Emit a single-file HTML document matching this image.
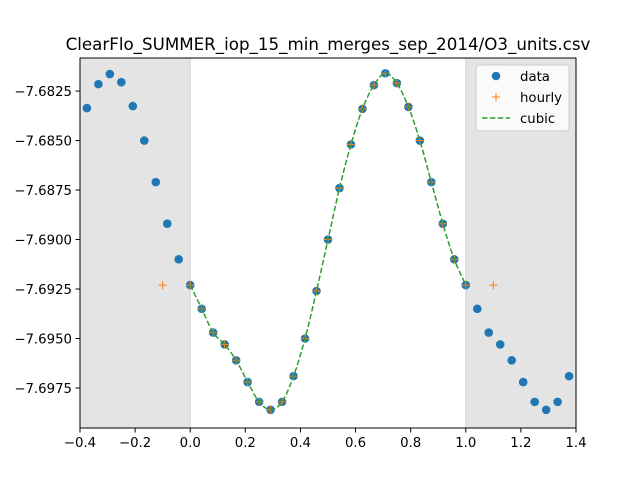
<!DOCTYPE html>
<html><head><meta charset="utf-8"><style>
html,body{margin:0;padding:0;background:#fff;}
svg text{font-family:"DejaVu Sans","Liberation Sans",sans-serif;}
</style></head><body>
<svg id="chart" width="640" height="480" xmlns="http://www.w3.org/2000/svg">
<rect x="0" y="0" width="640" height="480" fill="#fff"/>
<g id="plot"></g>
</svg>
<script>
const dataX = [-0.375,-0.3333,-0.2917,-0.25,-0.2083,-0.1667,-0.125,-0.0833,-0.0417,0,0.0417,0.0833,0.125,0.1667,0.2083,0.25,0.2917,0.3333,0.375,0.4167,0.4583,0.5,0.5417,0.5833,0.625,0.6667,0.7083,0.75,0.7917,0.8333,0.875,0.9167,0.9583,1.0,1.0417,1.0833,1.125,1.1667,1.2083,1.25,1.2917,1.3333,1.375];
const dataY = [-7.68336,-7.68215,-7.68164,-7.68205,-7.68326,-7.6850,-7.6871,-7.6892,-7.6910,-7.6923,-7.6935,-7.6947,-7.6953,-7.6961,-7.6972,-7.6982,-7.6986,-7.6982,-7.6969,-7.6950,-7.6926,-7.6900,-7.6874,-7.6852,-7.6834,-7.6822,-7.6816,-7.6821,-7.6833,-7.6850,-7.6871,-7.6892,-7.6910,-7.6923,-7.6935,-7.6947,-7.6953,-7.6961,-7.6972,-7.6982,-7.6986,-7.6982,-7.6969];
const hourlyX = [-0.1,0,0.0417,0.0833,0.125,0.1667,0.2083,0.25,0.2917,0.3333,0.375,0.4167,0.4583,0.5,0.5417,0.5833,0.625,0.6667,0.7083,0.75,0.7917,0.8333,0.875,0.9167,0.9583,1.0,1.1];
const hourlyY = [-7.6923,-7.6923,-7.6935,-7.6947,-7.6953,-7.6961,-7.6972,-7.6982,-7.6986,-7.6982,-7.6969,-7.6950,-7.6926,-7.6900,-7.6874,-7.6852,-7.6834,-7.6822,-7.6816,-7.6821,-7.6833,-7.6850,-7.6871,-7.6892,-7.6910,-7.6923,-7.6923];
const xTicks = [-0.4,-0.2,0.0,0.2,0.4,0.6,0.8,1.0,1.2,1.4];
const xTickLabels = ["\u22120.4","\u22120.2","0.0","0.2","0.4","0.6","0.8","1.0","1.2","1.4"];
const yTicks = [-7.6825,-7.6850,-7.6875,-7.6900,-7.6925,-7.6950,-7.6975];
const yTickLabels = ["\u22127.6825","\u22127.6850","\u22127.6875","\u22127.6900","\u22127.6925","\u22127.6950","\u22127.6975"];

const L=80,R=576,T=58,B=428;
const xMin=-0.4,xMax=1.4,yMin=-7.69952,yMax=-7.68083;
const sx=v=>L+(v-xMin)/(xMax-xMin)*(R-L);
const sy=v=>B-(v-yMin)/(yMax-yMin)*(B-T);
const NS="http://www.w3.org/2000/svg";
const g=document.getElementById('plot');
function mk(tag,attrs,parent){const e=document.createElementNS(NS,tag);for(const k in attrs)e.setAttribute(k,attrs[k]);(parent||g).appendChild(e);return e;}

let s1=mk('rect',{x:L,y:T,width:sx(0)-L,height:B-T,fill:'#e4e4e4'});


let s2=mk('rect',{x:sx(1),y:T,width:R-sx(1),height:B-T,fill:'#e4e4e4'});


mk('line',{x1:sx(0),x2:sx(0),y1:T,y2:B,stroke:'#d0d0d0','stroke-width':1});
mk('line',{x1:sx(1),x2:sx(1),y1:T,y2:B,stroke:'#d0d0d0','stroke-width':1});

const cx=[],cy=[];
for(let i=0;i<dataX.length;i++){if(dataX[i]>=-0.001&&dataX[i]<=1.001){cx.push(sx(dataX[i]));cy.push(sy(dataY[i]));}}
let d=`M${cx[0]},${cy[0]}`;
for(let i=0;i<cx.length-1;i++){
 const p0=i>0?i-1:i,p3=i+2<cx.length?i+2:i+1;
 const c1x=cx[i]+(cx[i+1]-cx[p0])/6,c1y=cy[i]+(cy[i+1]-cy[p0])/6;
 const c2x=cx[i+1]-(cx[p3]-cx[i])/6,c2y=cy[i+1]-(cy[p3]-cy[i])/6;
 d+=` C${c1x},${c1y} ${c2x},${c2y} ${cx[i+1]},${cy[i+1]}`;
}

dataX.forEach((x,i)=>{
 const c=mk('circle',{cx:sx(x),cy:sy(dataY[i]),r:4.3,fill:'#1f77b4'});
 
 
});
hourlyX.forEach((x,i)=>{
 const px=sx(x),py=sy(hourlyY[i]);
 const p=mk('path',{d:`M${px-4},${py}H${px+4}M${px},${py-4}V${py+4}`,stroke:'#ff7f0e','stroke-width':1});
 
 
});
const line=mk('path',{d:d,fill:'none',stroke:'#2ca02c','stroke-width':1.5,'stroke-dasharray':'5.5,2.4'});



const fr=mk('rect',{x:L,y:T,width:R-L,height:B-T,fill:'none',stroke:'#000','stroke-width':1});



xTicks.forEach((v,i)=>{
 const x=sx(v);
 mk('line',{x1:x,x2:x,y1:B,y2:B+4.5,stroke:'#000'});
 const t=mk('text',{x:x,y:B+19,'font-size':'13.3','text-anchor':'middle',fill:'#000'});
 t.textContent=xTickLabels[i];
 
 
});
yTicks.forEach((v,i)=>{
 const y=sy(v);
 mk('line',{x1:L-4.5,x2:L,y1:y,y2:y,stroke:'#000'});
 const t=mk('text',{x:L-8,y:y+5,'font-size':'13.3','text-anchor':'end',fill:'#000'});
 t.textContent=yTickLabels[i];
 
 
});
const title=mk('text',{x:328,y:50,'font-size':'16.7','text-anchor':'middle',fill:'#000'});
title.textContent='ClearFlo_SUMMER_iop_15_min_merges_sep_2014/O3_units.csv';



const lg=mk('g',{});


mk('rect',{x:476,y:65,width:93,height:66,rx:3,fill:'#fff','fill-opacity':0.8,stroke:'#ccc'},lg);
mk('circle',{cx:496,cy:76,r:4.3,fill:'#1f77b4'},lg);
mk('path',{d:'M492,97H500M496,93V101',stroke:'#ff7f0e'},lg);
mk('line',{x1:482,x2:510,y1:118,y2:118,stroke:'#2ca02c','stroke-width':1.5,'stroke-dasharray':'5.5,2.4'},lg);
[['data',81],['hourly',102],['cubic',123]].forEach(([s,y])=>{
 const t=mk('text',{x:520,y:y,'font-size':'13.3',fill:'#000'},lg);
 t.textContent=s;
 
 
});
</script>
</body></html>
